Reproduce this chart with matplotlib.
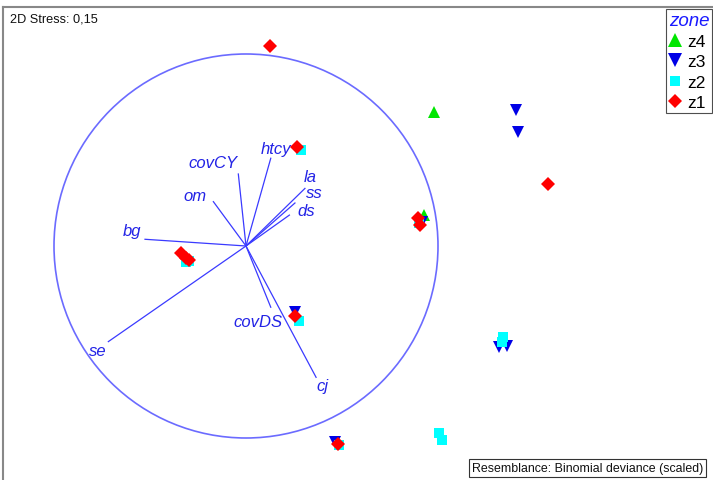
import matplotlib
matplotlib.use("Agg")
import matplotlib.pyplot as plt
from matplotlib.patches import Circle
from matplotlib.lines import Line2D

plt.rcParams['font.family'] = ['Liberation Sans', 'DejaVu Sans']

# ---- data (nMDS coordinates, circle radius = 1) ----
z4_x = [0.979, 0.927, 0.906]
z4_y = [0.698, 0.161, 0.135]
z3_x = [1.406, 1.417, 0.917, 0.255, 1.318, 1.359, 0.464]
z3_y = [0.708, 0.594, 0.125, -0.344, -0.526, -0.521, -1.021]
z2_x = [0.286, -0.312, -0.297, 0.276, 1.339, 1.333, 1.005, 1.021, 0.484, 0.901]
z2_y = [0.500, -0.083, -0.078, -0.391, -0.474, -0.500, -0.974, -1.010, -1.036, 0.120]
z1_x = [0.125, 1.573, 0.266, 0.896, 0.906, -0.339, -0.3125, -0.297, 0.255, 0.479]
z1_y = [1.042, 0.323, 0.516, 0.146, 0.109, -0.036, -0.0625, -0.073, -0.365, -1.031]

vec_names = ['htcy', 'covCY', 'om', 'la', 'ss', 'ds', 'bg', 'se', 'covDS', 'cj']
vec_x = [0.129, -0.040, -0.170, 0.307, 0.255, 0.226, -0.526, -0.717, 0.129, 0.365]
vec_y = [0.457, 0.375, 0.231, 0.300, 0.224, 0.161, 0.035, -0.498, -0.319, -0.684]

legend_title = 'zone'
stress_text = '2D Stress: 0,15'
resemblance_text = 'Resemblance: Binomial deviance (scaled)'

# ---- styles ----
label_offsets = {  # pixel offsets of label centre from vector tip
    'htcy': (5, 10), 'covCY': (-25, 11), 'om': (-18, 6), 'la': (5, 12),
    'ss': (19, 10), 'ds': (17, 5), 'bg': (-13, 9), 'se': (-11, -9),
    'covDS': (-13, -14), 'cj': (6, -8),
}
groups = [
    ('z4', z4_x, z4_y, '^', '#00e600', 9),
    ('z3', z3_x, z3_y, 'v', '#0000e6', 9),
    ('z2', z2_x, z2_y, 's', '#00ffff', 6.8),
    ('z1', z1_x, z1_y, 'D', '#ff0000', 6.8),
]
vec_color = '#3a3aff'
circ_color = '#6b6bff'

W, H = 713, 481
fig = plt.figure(figsize=(W / 100, H / 100), dpi=100)
scale = 192.0
cx, cy = 246.0, 247.0
left_px, top_px = 3.0, 8.0
right_px, bottom_px = 716.0, 486.0
ax = fig.add_axes([left_px / W, 1 - bottom_px / H, (right_px - left_px) / W, (bottom_px - top_px) / H])
ax.set_xlim((left_px - cx) / scale, (right_px - cx) / scale)
ax.set_ylim((cy - bottom_px) / scale, (cy - top_px) / scale)
ax.set_xticks([])
ax.set_yticks([])
for s in ax.spines.values():
    s.set_color('#888888')
    s.set_linewidth(1.5)

# circle
ax.add_patch(Circle((0, 0), 1.0, fill=False, edgecolor=circ_color, linewidth=1.2, zorder=2))

# vectors
for name, vx, vy in zip(vec_names, vec_x, vec_y):
    ax.plot([0, vx], [0, vy], color=vec_color, linewidth=0.9, zorder=3)
    ox, oy = label_offsets[name]
    ax.annotate(name, (vx, vy), xytext=(ox, oy), textcoords='offset pixels',
                ha='center', va='center', fontsize=12, style='italic',
                color='#2323e6', zorder=4)

# points
for lab, xs, ys, mk, col, ms in groups:
    ax.plot(xs, ys, linestyle='none', marker=mk, color=col, markersize=ms,
            markeredgewidth=0, zorder=5)

# legend
handles = [Line2D([], [], linestyle='none', marker=mk, color=col, markersize=ms * 1.05,
                  markeredgewidth=0, label=lab) for lab, xs, ys, mk, col, ms in groups]
leg = ax.legend(handles=handles, loc='upper right',
                bbox_to_anchor=((712 - left_px) / (right_px - left_px), 1 - (10 - top_px) / (bottom_px - top_px)),
                title=legend_title, frameon=True, fancybox=False, fontsize=12.5,
                handlelength=0.7, handletextpad=0.35, borderpad=0.15, labelspacing=0.3,
                borderaxespad=0, alignment='left')
leg.get_frame().set_edgecolor('#222222')
leg.get_frame().set_linewidth(0.8)
t = leg.get_title()
t.set_color('#1a1aff')
t.set_fontstyle('italic')
t.set_fontsize(13.5)

# texts
fig.text(10 / W, 1 - 20 / H, stress_text, fontsize=9.2, ha='left', va='center', color='#111111')
fig.text(472 / W, 1 - 469 / H, resemblance_text, fontsize=8.9, ha='left', va='center', color='#111111',
         bbox=dict(boxstyle='square,pad=0.22', facecolor='white', edgecolor='#333333', linewidth=0.8))

fig.savefig('out.png', dpi=100)
